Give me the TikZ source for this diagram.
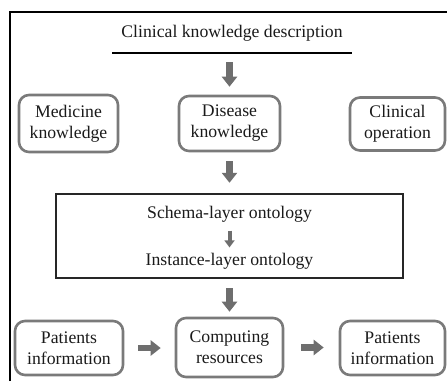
\documentclass[tikz,border=0pt]{standalone}
\usepackage{fontspec}
\setmainfont{Liberation Serif}
\usepackage{xcolor}
\definecolor{flowBoxGray}{HTML}{7A7A7A}
\definecolor{flowArrowGray}{HTML}{6E6E6E}
\definecolor{flowText}{HTML}{1A1A1A}
\usetikzlibrary{arrows.meta,positioning}

\begin{document}
\begin{tikzpicture}[x=1pt,y=-1pt,font=\fontsize{17.7}{21}\selectfont,text=flowText]
  \tikzset{
    roundbox/.style={
      draw=flowBoxGray,
      line width=2.6pt,
      rounded corners=10pt,
      align=center,
      inner sep=0pt,
    },
    layerbox/.style={
      draw=black!85,
      line width=2.4pt,
      inner sep=0pt,
    },
    fatarrow/.style={
      draw=flowArrowGray,
      line width=6.5pt,
      -{Triangle[width=15pt,length=10pt]},
    },
    slimarrow/.style={
      draw=flowArrowGray,
      line width=4pt,
      -{Triangle[width=10pt,length=7pt]},
    },
  }

  \path[use as bounding box] (0,0) rectangle (447,381);
  % Outer frame, cut off at the right and at the bottom.
  \draw[black,line width=2.4pt] (10,381) -- (10,12) -- (447,12);

  \node[minimum width=239pt,minimum height=40pt,inner sep=0pt] (title) at (232,33)
    {Clinical knowledge description};
  \draw[black,line width=2.2pt] (title.south west) -- (title.south east);

  \node[roundbox,minimum width=99pt,minimum height=57pt] (medicine) at (68.5,123.5)
    {Medicine\\knowledge};
  \node[roundbox,minimum width=101pt,minimum height=55pt] (disease) at (229.5,123.5)
    {Disease\\knowledge};
  \node[roundbox,minimum width=95pt,minimum height=53pt] (clinical) at (397.5,124)
    {Clinical\\operation};

  \node[layerbox,minimum width=347pt,minimum height=84pt] (ontology) at (229.5,236) {};
  \node (schema) at (229.5,214) {Schema-layer ontology};
  \node (instance) at (229.5,261) {Instance-layer ontology};

  \node[roundbox,minimum width=108pt,minimum height=54pt] (patientsin) at (69,348)
    {Patients\\information};
  \node[roundbox,minimum width=107pt,minimum height=59pt] (computing) at (229.5,347.5)
    {Computing\\resources};
  \node[roundbox,minimum width=105pt,minimum height=54pt] (patientsout) at (392.5,348)
    {Patients\\information};

  \draw[fatarrow,shorten <=9pt,shorten >=8pt] (title.south -| disease.north) -- (disease.north);
  \draw[fatarrow,shorten <=9pt,shorten >=10pt] (disease.south) -- (ontology.north);
  \draw[slimarrow,shorten <=5pt,shorten >=2pt] (schema.south) -- (instance.north);
  \draw[fatarrow,shorten <=9pt,shorten >=5pt] (ontology.south) -- (computing.north);
  \draw[fatarrow,shorten <=14pt,shorten >=14pt] (patientsin.east) -- (patientsin.east -| computing.west);
  \draw[fatarrow,shorten <=17pt,shorten >=15pt] (computing.east) -- (computing.east -| patientsout.west);
\end{tikzpicture}
\end{document}
